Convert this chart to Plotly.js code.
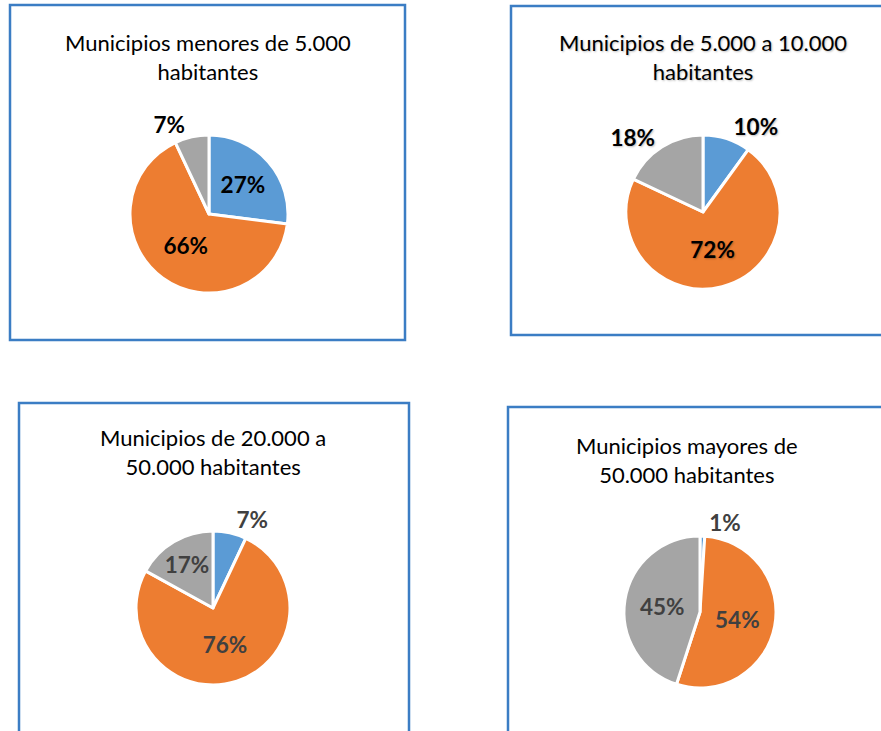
<!DOCTYPE html>
<html>
<head>
<meta charset="utf-8">
<script src="https://cdn.plot.ly/plotly-3.0.1.min.js"></script>
<style>html,body{margin:0;padding:0;background:#fff;}#chart{width:881px;height:731px;}</style>
</head>
<body>
<div id="chart"></div>
<script>
// Data
const categories = ["Categoría A", "Categoría B", "Categoría C"];
const titles = [
  "Municipios menores de 5.000<br>habitantes",
  "Municipios de 5.000 a 10.000<br>habitantes",
  "Municipios de 20.000 a<br>50.000 habitantes",
  "Municipios mayores de<br>50.000 habitantes"
];
const values1 = [27, 66, 7];
const values2 = [10, 72, 18];
const values3 = [7, 76, 17];
const values4 = [1, 54, 45];
const textPositions1 = ["inside", "inside", "outside"];
const textPositions2 = ["outside", "inside", "outside"];
const textPositions3 = ["outside", "inside", "inside"];
const textPositions4 = ["outside", "inside", "inside"];

const W = 881, H = 731;
const colors = ["#5B9BD5", "#ED7D31", "#A5A5A5"];
const FONT = "Lato, 'Open Sans', sans-serif";
const LSIZE = 22.5;

function dom(cx, cy, r) {
  return { x: [(cx - r) / W, (cx + r) / W], y: [1 - (cy + r) / H, 1 - (cy - r) / H] };
}

function pie(values, pos, d, color, shadow) {
  const f = { family: FONT, size: LSIZE, color: color, weight: "bold", shadow: shadow };
  return {
    type: "pie",
    labels: categories,
    values: values,
    sort: false,
    direction: "clockwise",
    rotation: 0,
    domain: d,
    marker: { colors: colors, line: { color: "#ffffff", width: 3 } },
    texttemplate: "%{percent:.0%}",
    textposition: pos,
    insidetextorientation: "horizontal",
    textfont: f,
    outsidetextfont: f,
    insidetextfont: f,
    hoverinfo: "label+percent",
    showlegend: false
  };
}

const sh2 = "1px 1px 2px rgba(0,0,0,0.25)";
const data = [
  pie(values1, textPositions1, dom(209, 214, 79), "#000000", "none"),
  pie(values2, textPositions2, dom(703, 212, 77), "#000000", sh2),
  pie(values3, textPositions3, dom(213, 608, 77), "#404040", "none"),
  pie(values4, textPositions4, dom(700, 612, 76), "#404040", "none")
];

function box(x0, y0, x1, y1) {
  return {
    type: "rect", xref: "paper", yref: "paper",
    x0: x0 / W, x1: x1 / W, y0: 1 - y1 / H, y1: 1 - y0 / H,
    line: { color: "#3B7DC4", width: 2.5 }, fillcolor: "rgba(0,0,0,0)", layer: "below"
  };
}

function title(text, cx, cy, shadow) {
  return {
    text: text, xref: "paper", yref: "paper",
    x: cx / W, y: 1 - cy / H, xanchor: "center", yanchor: "middle",
    showarrow: false, align: "center",
    font: { family: FONT, size: 22, color: "#000000", shadow: shadow }
  };
}

const layout = {
  width: W, height: H,
  margin: { l: 0, r: 0, t: 0, b: 0 },
  paper_bgcolor: "#ffffff",
  showlegend: false,
  uniformtext: { mode: "show", minsize: LSIZE },
  shapes: [
    box(10, 5, 405, 340),
    box(511, 6, 900, 335),
    box(19, 403, 409, 760),
    box(508, 407, 900, 760)
  ],
  annotations: [
    title(titles[0], 208, 57, "none"),
    title(titles[1], 703, 57, sh2),
    title(titles[2], 213, 452, "none"),
    title(titles[3], 687, 460, "none")
  ]
};

Plotly.newPlot("chart", data, layout, { displayModeBar: false, staticPlot: true });
</script>
</body>
</html>
